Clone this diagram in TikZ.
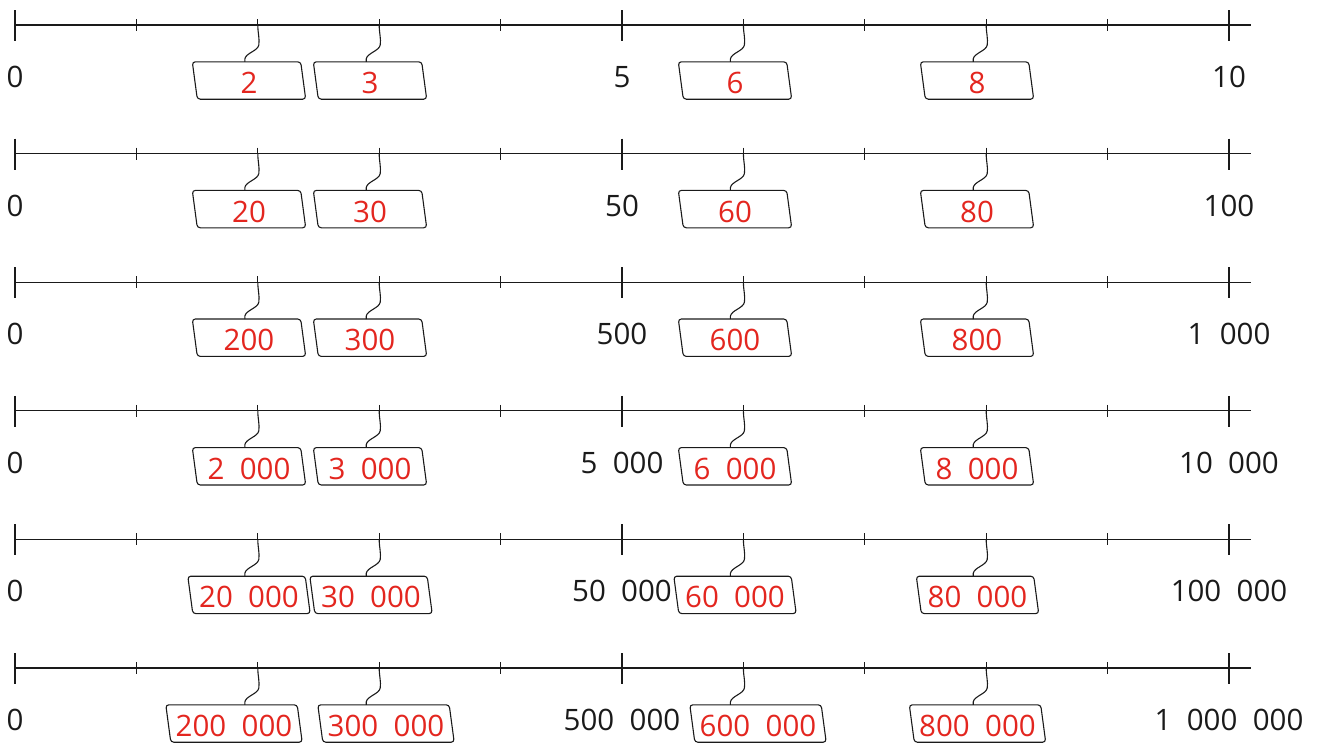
\documentclass[tikz,border=0pt]{standalone}
\usepackage{fontspec}
\setmainfont[WordSpace=2]{Open Sans}
\usetikzlibrary{calc}
\definecolor{tagred}{HTML}{E3261F}
\definecolor{ink}{HTML}{1A1A1A}
\tikzset{
  axis line/.style={draw=ink, line width=1.3pt},
  tick mark/.style={draw=ink, line width=1.3pt},
  end label/.style={text=ink, font=\fontsize{29.5}{30}\selectfont, inner sep=0pt},
  tag/.style={text=tagred, font=\fontsize{29.5}{30}\selectfont, inner sep=0pt,
    minimum height=37pt, text height=26pt, text depth=0pt},
  tag frame/.style={draw=ink, line width=1.1pt, rounded corners=3pt},
  squiggle/.style={draw=ink, line width=1.1pt}
}

\begin{document}
\begin{tikzpicture}[x=1pt, y=-1pt]
  \useasboundingbox (0,0) rectangle (1319,745);
  \foreach \row/\yy/\bw/\endA/\endB/\endC/\tagA/\tagB/\tagC/\tagD/\xA/\xB/\xC/\xD in {
    1/25/108/0/5/10/2/3/6/8/249/370/735/977,
    2/153.6/108/0/50/100/20/30/60/80/249/370/735/977,
    3/282.2/108/0/500/1 000/200/300/600/800/249/370/735/977,
    4/410.8/108/0/5 000/10 000/2 000/3 000/6 000/8 000/249/370/735/977,
    5/539.4/117/0/50 000/100 000/20 000/30 000/60 000/80 000/249/371/735/977.5,
    6/668/131/0/500 000/1 000 000/200 000/300 000/600 000/800 000/234/386/758/977.5}
  {
    % axis and ticks
    \coordinate (L\row) at (15,\yy);
    \coordinate (R\row) at (1251,\yy);
    \draw[axis line] (L\row) -- (R\row);
    \foreach \k in {0,...,10}
      \coordinate (t\row-\k) at ({15+121.4*\k},\yy);
    \foreach \k in {0,5,10}
      \draw[tick mark] ($(t\row-\k)+(0,-15)$) -- ($(t\row-\k)+(0,16)$);
    \foreach \k in {1,4,7,9}
      \draw[tick mark] ($(t\row-\k)+(0,-6)$) -- ($(t\row-\k)+(0,6)$);
    \foreach \k in {2,3,6,8}
      \draw[tick mark] ($(t\row-\k)+(0,-6)$) -- (t\row-\k);
    % end labels
    \node[end label] (n\row-0) at ($(t\row-0)+(0,52)$) {\endA};
    \node[end label] (n\row-5) at ($(t\row-5)+(0,52)$) {\endB};
    \node[end label] (n\row-10) at ($(t\row-10)+(0,52)$) {\endC};
    % tags
    \foreach \k/\bx/\txt in {2/\xA/\tagA, 3/\xB/\tagB, 6/\xC/\tagC, 8/\xD/\tagD} {
      \node[tag, minimum width=\bw pt] (b\row-\k) at (\bx,{\yy+55.5}) {\txt};
      \draw[tag frame] ($(b\row-\k.north west)+(-2.5,0)$) -- ($(b\row-\k.north east)+(-2.5,0)$)
        -- ($(b\row-\k.south east)+(2.5,0)$) -- ($(b\row-\k.south west)+(2.5,0)$) -- cycle;
      \path (t\row-\k) ++(-13,0) coordinate (h\row-\k);
      \draw[squiggle] (t\row-\k) .. controls +(0,8) and +(1,-6) .. ++(1,20)
        .. controls +(-1,6) and +(1,-6) .. ++(-14,14) -- (h\row-\k |- b\row-\k.north);
    }
  }
\end{tikzpicture}
\end{document}
